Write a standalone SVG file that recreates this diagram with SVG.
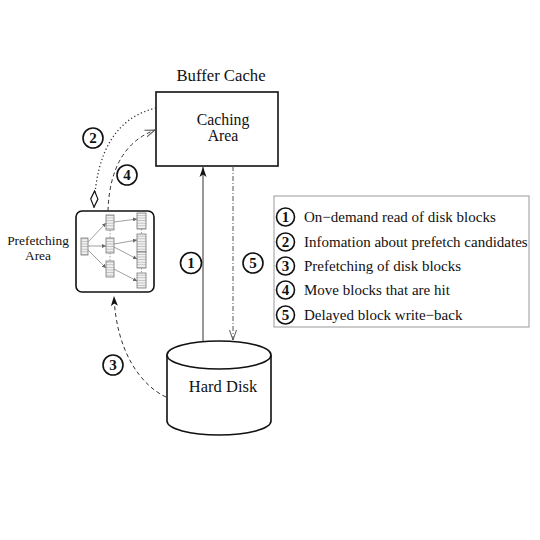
<svg xmlns="http://www.w3.org/2000/svg" width="540" height="540" viewBox="0 0 540 540">
<style>
text{font-family:"Liberation Serif","Times New Roman",serif;fill:#111}
.num{font-weight:bold;font-size:15px;text-anchor:middle}
.cir{fill:#fff;stroke:#111;stroke-width:1.6}
.box{fill:#fff;stroke:#111;stroke-width:1.6}
.blk{fill:url(#stripes);stroke:#777;stroke-width:0.8}
.mini{stroke:#777;stroke-width:0.7;fill:none;marker-end:url(#mini)}
.leg{font-size:15px}
</style>
<defs>
<pattern id="stripes" width="4" height="2.6" patternUnits="userSpaceOnUse">
<rect width="4" height="2.6" fill="#f0f0f0"/>
<line x1="0" y1="2.3" x2="4" y2="2.3" stroke="#999" stroke-width="0.6"/>
</pattern>
<marker id="filled" viewBox="0 0 10 10" refX="10" refY="5" markerWidth="10" markerHeight="10" markerUnits="userSpaceOnUse" orient="auto">
<path d="M0,1.5 L10,5 L0,8.5 L2.5,5 Z" fill="#111"/>
</marker>
<marker id="open" viewBox="0 0 10 10" refX="10" refY="5" markerWidth="10" markerHeight="10" markerUnits="userSpaceOnUse" orient="auto">
<path d="M0,1.5 L10,5 L0,8.5" fill="none" stroke="#555" stroke-width="1"/>
</marker>
<marker id="diamond" viewBox="0 0 20 10" refX="20" refY="5" markerWidth="18" markerHeight="9" markerUnits="userSpaceOnUse" orient="auto">
<path d="M1,5 L10,1 L19,5 L10,9 Z" fill="#fff" stroke="#111" stroke-width="1.3"/>
</marker>
<marker id="mini" viewBox="0 0 6 6" refX="6" refY="3" markerWidth="4" markerHeight="4" markerUnits="userSpaceOnUse" orient="auto">
<path d="M0,0 L6,3 L0,6 Z" fill="#666"/>
</marker>
</defs>

<g id="buffer-cache">
<text x="221" y="81" font-size="16.7" text-anchor="middle">Buffer Cache</text>
<rect class="box" x="156" y="92" width="122" height="74"/>
<text x="223" y="125" font-size="15.8" text-anchor="middle">Caching</text>
<text x="223" y="141" font-size="15.8" text-anchor="middle">Area</text>
</g>

<g id="prefetching-area">
<text x="38" y="245" font-size="13.4" text-anchor="middle">Prefetching</text>
<text x="38" y="260" font-size="13.4" text-anchor="middle">Area</text>
<rect class="box" x="76" y="211" width="78" height="81" rx="6"/>
<rect class="blk" x="81" y="238" width="7" height="17"/>
<rect class="blk" x="106" y="215" width="8" height="15"/>
<rect class="blk" x="106" y="238" width="8" height="15"/>
<rect class="blk" x="106" y="261" width="8" height="16"/>
<rect class="blk" x="137" y="213" width="9" height="16"/>
<rect class="blk" x="137" y="234" width="9" height="18"/>
<rect class="blk" x="137" y="252" width="9" height="16"/>
<rect class="blk" x="137" y="273" width="9" height="15"/>
<path class="mini" d="M88,242 L106,223"/>
<path class="mini" d="M88,246 L106,246"/>
<path class="mini" d="M88,250 L106,268"/>
<path class="mini" d="M114,222 L137,219"/>
<path class="mini" d="M114,244 L137,240"/>
<path class="mini" d="M114,247 L137,259"/>
<path class="mini" d="M114,269 L137,281"/>
<path d="M110,230 L110,238 M110,253 L110,261 M141.5,229 L141.5,234 M141.5,268 L141.5,273" stroke="#777" stroke-width="0.7" stroke-dasharray="1.5,1.5"/>
</g>

<g id="hard-disk">
<path d="M167,355 L167,421 A52,14 0 0 0 271,421 L271,355" fill="#fff" stroke="#111" stroke-width="1.6"/>
<ellipse cx="219" cy="355" rx="52" ry="14" fill="#fff" stroke="#111" stroke-width="1.6"/>
<text x="223" y="392" font-size="16.5" text-anchor="middle">Hard Disk</text>
</g>

<g id="connectors">
<path d="M203,341 L203,167" stroke="#333" stroke-width="1" fill="none" marker-end="url(#filled)"/>
<path d="M233,166 L233,340" stroke="#555" stroke-width="1" fill="none" stroke-dasharray="5,2,1,2" marker-end="url(#open)"/>
<path d="M166,397 C140,385 116,350 114,296" stroke="#333" stroke-width="1" fill="none" stroke-dasharray="4,3" marker-end="url(#filled)"/>
<path d="M156,108 Q97,122 94,208" stroke="#333" stroke-width="1.3" fill="none" stroke-dasharray="1.2,2.5" marker-end="url(#diamond)"/>
<path d="M108,211 Q110,147 155,130" stroke="#333" stroke-width="1" fill="none" stroke-dasharray="4,3" marker-end="url(#open)"/>
</g>

<g id="labels">
<circle class="cir" cx="93" cy="138" r="10"/><text class="num" x="93" y="143.3">2</text>
<circle class="cir" cx="127" cy="175" r="10"/><text class="num" x="127" y="180.3">4</text>
<circle class="cir" cx="191" cy="263" r="10.5"/><text class="num" x="191" y="268.3">1</text>
<circle class="cir" cx="253" cy="263" r="10"/><text class="num" x="253" y="268.3">5</text>
<circle class="cir" cx="113" cy="365" r="10"/><text class="num" x="113" y="370.3">3</text>
</g>

<g id="legend">
<rect x="274" y="196" width="255" height="131" fill="#fff" stroke="#999" stroke-width="1"/>
<circle class="cir" cx="285.5" cy="217" r="9"/><text class="num" x="285.5" y="222.3">1</text>
<text class="leg" x="304" y="222">On−demand read of disk blocks</text>
<circle class="cir" cx="285.5" cy="242" r="9"/><text class="num" x="285.5" y="247.3">2</text>
<text class="leg" x="304" y="247">Infomation about prefetch candidates</text>
<circle class="cir" cx="285.5" cy="266" r="9"/><text class="num" x="285.5" y="271.3">3</text>
<text class="leg" x="304" y="271">Prefetching of disk blocks</text>
<circle class="cir" cx="285.5" cy="290" r="9"/><text class="num" x="285.5" y="295.3">4</text>
<text class="leg" x="304" y="295">Move blocks that are hit</text>
<circle class="cir" cx="285.5" cy="315" r="9"/><text class="num" x="285.5" y="320.3">5</text>
<text class="leg" x="304" y="320">Delayed block write−back</text>
</g>
</svg>
